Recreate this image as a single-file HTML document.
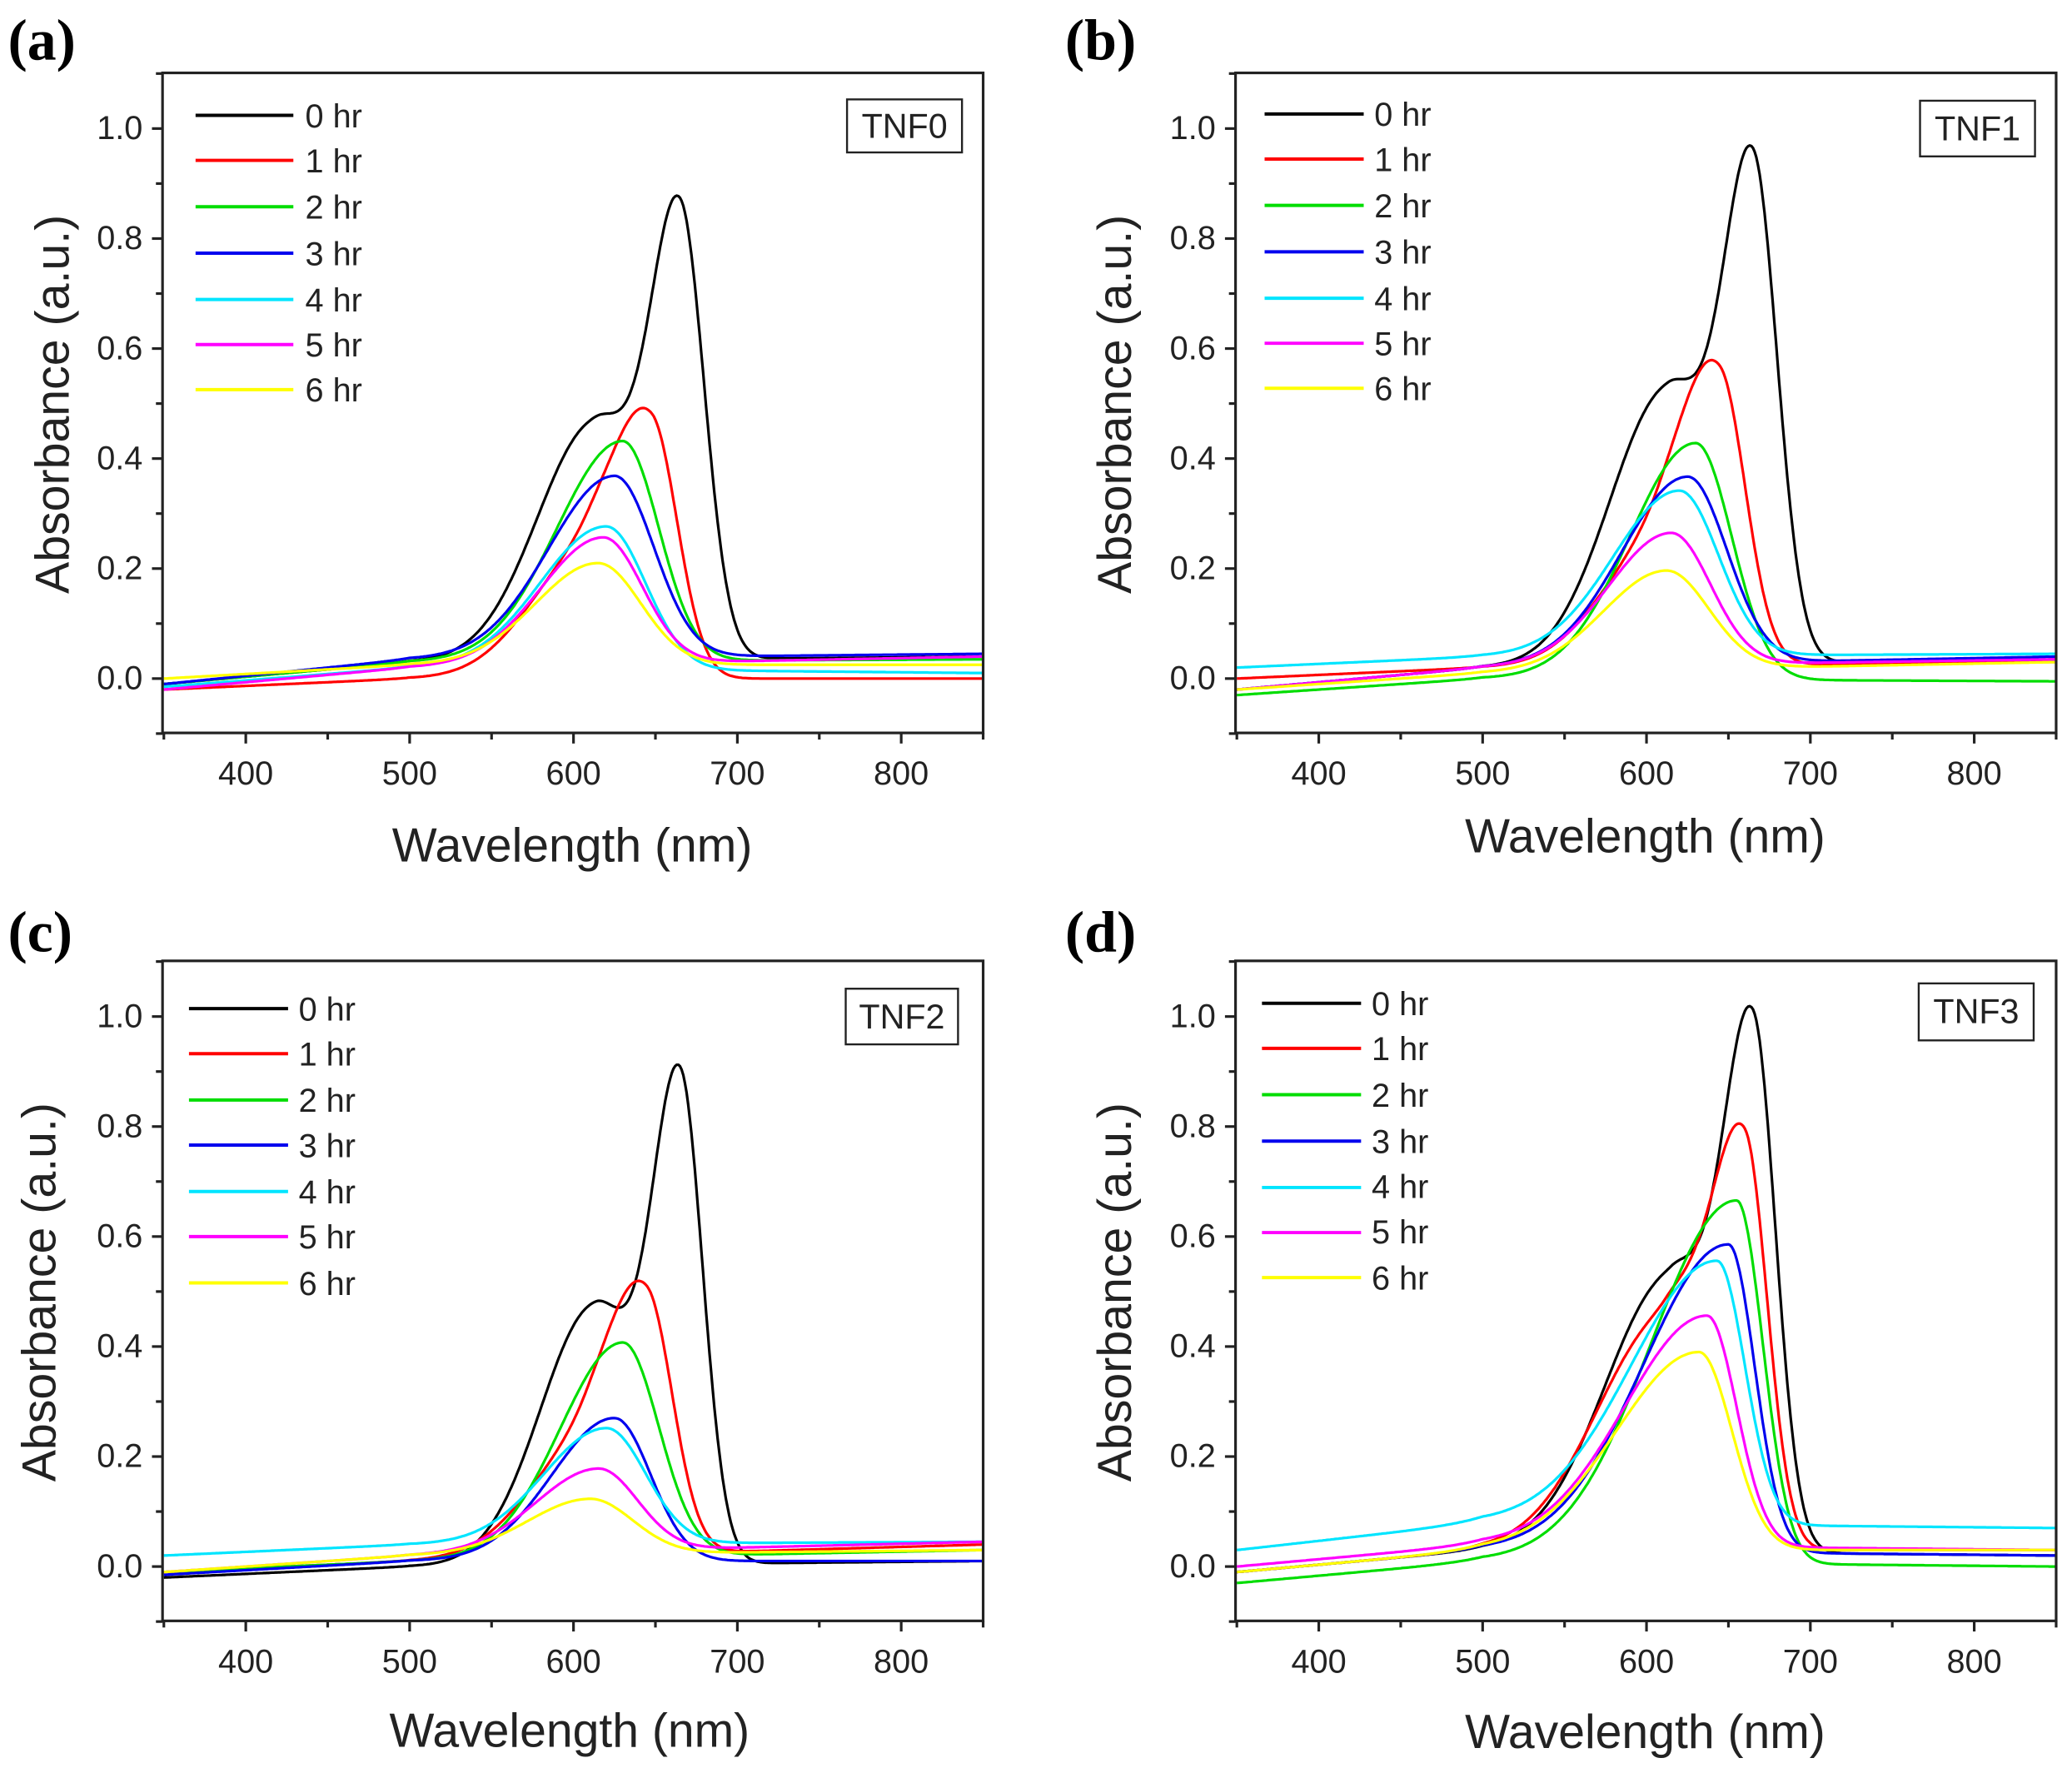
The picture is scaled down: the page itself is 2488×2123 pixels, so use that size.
<!DOCTYPE html>
<html><head><meta charset="utf-8"><style>
html,body{margin:0;padding:0;background:#fff}
svg{display:block}
text{font-family:"Liberation Sans",sans-serif;fill:#222}
.pl{font-family:"Liberation Serif",serif;font-weight:bold;font-size:44px;fill:#000}
.tk{font-size:25px}
.ti{font-size:36px}
.lg{font-size:25px}
.bx{font-size:26px}
</style></head><body>
<svg id="s" width="2488" height="2123" viewBox="0 0 1568 1334" preserveAspectRatio="none" xmlns="http://www.w3.org/2000/svg">
<g id="g"></g>
<text class="pl" x="6" y="45">(a)</text>
<text class="pl" x="806" y="45">(b)</text>
<text class="pl" x="6" y="718">(c)</text>
<text class="pl" x="806" y="718">(d)</text>
<g>
<text class="tk" x="108" y="105" text-anchor="end">1.0</text><text class="tk" x="108" y="188" text-anchor="end">0.8</text><text class="tk" x="108" y="271" text-anchor="end">0.6</text><text class="tk" x="108" y="354" text-anchor="end">0.4</text><text class="tk" x="108" y="437" text-anchor="end">0.2</text><text class="tk" x="108" y="520" text-anchor="end">0.0</text>
<text class="tk" x="186" y="592" text-anchor="middle">400</text><text class="tk" x="310" y="592" text-anchor="middle">500</text><text class="tk" x="434" y="592" text-anchor="middle">600</text><text class="tk" x="558" y="592" text-anchor="middle">700</text><text class="tk" x="682" y="592" text-anchor="middle">800</text>
<text class="ti" x="433" y="650" text-anchor="middle">Wavelength (nm)</text>
<text class="ti" transform="translate(52,305) rotate(-90)" text-anchor="middle">Absorbance (a.u.)</text>
<text class="lg" x="231" y="96">0 hr</text><text class="lg" x="231" y="130">1 hr</text><text class="lg" x="231" y="165">2 hr</text><text class="lg" x="231" y="200">3 hr</text><text class="lg" x="231" y="235">4 hr</text><text class="lg" x="231" y="269">5 hr</text><text class="lg" x="231" y="303">6 hr</text>
<rect x="641" y="75" width="87" height="40" fill="none" stroke="#222" stroke-width="1.5"/><text class="bx" x="684.5" y="104" text-anchor="middle">TNF0</text>
</g>
<g transform="translate(812,0)">
<text class="tk" x="108" y="105" text-anchor="end">1.0</text><text class="tk" x="108" y="188" text-anchor="end">0.8</text><text class="tk" x="108" y="271" text-anchor="end">0.6</text><text class="tk" x="108" y="354" text-anchor="end">0.4</text><text class="tk" x="108" y="437" text-anchor="end">0.2</text><text class="tk" x="108" y="520" text-anchor="end">0.0</text>
<text class="tk" x="186" y="592" text-anchor="middle">400</text><text class="tk" x="310" y="592" text-anchor="middle">500</text><text class="tk" x="434" y="592" text-anchor="middle">600</text><text class="tk" x="558" y="592" text-anchor="middle">700</text><text class="tk" x="682" y="592" text-anchor="middle">800</text>
<text class="ti" x="433" y="643" text-anchor="middle">Wavelength (nm)</text>
<text class="ti" transform="translate(44,305) rotate(-90)" text-anchor="middle">Absorbance (a.u.)</text>
<text class="lg" x="228" y="95">0 hr</text><text class="lg" x="228" y="129">1 hr</text><text class="lg" x="228" y="164">2 hr</text><text class="lg" x="228" y="199">3 hr</text><text class="lg" x="228" y="234">4 hr</text><text class="lg" x="228" y="268">5 hr</text><text class="lg" x="228" y="302">6 hr</text>
<rect x="641" y="76" width="87" height="42" fill="none" stroke="#222" stroke-width="1.5"/><text class="bx" x="684.5" y="106" text-anchor="middle">TNF1</text>
</g>
<g transform="translate(0,670)">
<text class="tk" x="108" y="105" text-anchor="end">1.0</text><text class="tk" x="108" y="188" text-anchor="end">0.8</text><text class="tk" x="108" y="271" text-anchor="end">0.6</text><text class="tk" x="108" y="354" text-anchor="end">0.4</text><text class="tk" x="108" y="437" text-anchor="end">0.2</text><text class="tk" x="108" y="520" text-anchor="end">0.0</text>
<text class="tk" x="186" y="592" text-anchor="middle">400</text><text class="tk" x="310" y="592" text-anchor="middle">500</text><text class="tk" x="434" y="592" text-anchor="middle">600</text><text class="tk" x="558" y="592" text-anchor="middle">700</text><text class="tk" x="682" y="592" text-anchor="middle">800</text>
<text class="ti" x="431" y="648" text-anchor="middle">Wavelength (nm)</text>
<text class="ti" transform="translate(42,305) rotate(-90)" text-anchor="middle">Absorbance (a.u.)</text>
<text class="lg" x="226" y="100">0 hr</text><text class="lg" x="226" y="134">1 hr</text><text class="lg" x="226" y="169">2 hr</text><text class="lg" x="226" y="203">3 hr</text><text class="lg" x="226" y="238">4 hr</text><text class="lg" x="226" y="272">5 hr</text><text class="lg" x="226" y="307">6 hr</text>
<rect x="640" y="76" width="85" height="42" fill="none" stroke="#222" stroke-width="1.5"/><text class="bx" x="682.5" y="106" text-anchor="middle">TNF2</text>
</g>
<g transform="translate(812,670)">
<text class="tk" x="108" y="105" text-anchor="end">1.0</text><text class="tk" x="108" y="188" text-anchor="end">0.8</text><text class="tk" x="108" y="271" text-anchor="end">0.6</text><text class="tk" x="108" y="354" text-anchor="end">0.4</text><text class="tk" x="108" y="437" text-anchor="end">0.2</text><text class="tk" x="108" y="520" text-anchor="end">0.0</text>
<text class="tk" x="186" y="592" text-anchor="middle">400</text><text class="tk" x="310" y="592" text-anchor="middle">500</text><text class="tk" x="434" y="592" text-anchor="middle">600</text><text class="tk" x="558" y="592" text-anchor="middle">700</text><text class="tk" x="682" y="592" text-anchor="middle">800</text>
<text class="ti" x="433" y="649" text-anchor="middle">Wavelength (nm)</text>
<text class="ti" transform="translate(44,305) rotate(-90)" text-anchor="middle">Absorbance (a.u.)</text>
<text class="lg" x="226" y="96">0 hr</text><text class="lg" x="226" y="130">1 hr</text><text class="lg" x="226" y="165">2 hr</text><text class="lg" x="226" y="200">3 hr</text><text class="lg" x="226" y="234">4 hr</text><text class="lg" x="226" y="268">5 hr</text><text class="lg" x="226" y="303">6 hr</text>
<rect x="640" y="72" width="87" height="43" fill="none" stroke="#222" stroke-width="1.5"/><text class="bx" x="683.5" y="102" text-anchor="middle">TNF3</text>
</g>
</svg>
<script>
(function(){
var NS="http://www.w3.org/2000/svg",g=document.getElementById("g");
var cols=["#000000","#ff0000","#00dd00","#0000ee","#00e5ff","#ff00ff","#ffff00"];
function add(tag,at){var e=document.createElementNS(NS,tag);for(var k in at)e.setAttribute(k,at[k]);g.appendChild(e);return e;}
function sg(l,c,a,sl,sr){var s=l<c?sl:sr;return a*Math.exp(-(l-c)*(l-c)/(2*s*s));}
var P=[
 {ox:0,oy:0,lx:[148,222],ly:[87,121,156,191,226,260,294],c:[
  [-0.01,0.03,0.04,[665,0.79,18,15],[613,0.43,35,25]],
  [-0.02,0.0,0.0,[648,0.42,22,16],[608,0.22,35,25]],
  [-0.01,0.03,0.035,[630,0.40,40,22]],
  [-0.01,0.035,0.045,[625,0.33,40,24]],
  [-0.015,0.02,0.01,[620,0.26,40,24]],
  [-0.02,0.02,0.04,[618,0.23,38,24]],
  [0.0,0.025,0.025,[615,0.185,38,26]]]},
 {ox:812,oy:0,lx:[957,1032],ly:[86,120,155,190,225,259,293],c:[
  [-0.02,0.02,0.035,[665,0.88,18,15],[613,0.5,35,25]],
  [0.0,0.02,0.03,[645,0.47,22,16],[608,0.22,35,25]],
  [-0.03,0.0,-0.005,[630,0.43,40,22]],
  [-0.02,0.02,0.04,[625,0.34,40,24]],
  [0.02,0.04,0.045,[620,0.30,40,24]],
  [-0.02,0.02,0.035,[615,0.24,38,24]],
  [-0.02,0.01,0.03,[612,0.18,38,26]]]},
 {ox:0,oy:670,lx:[143,218],ly:[91,125,160,194,229,263,298],c:[
  [-0.02,0.0,0.01,[665,0.86,17,14],[613,0.47,33,24]],
  [-0.01,0.01,0.04,[645,0.42,22,16],[608,0.2,35,25]],
  [-0.01,0.01,0.03,[630,0.39,38,22]],
  [-0.015,0.01,0.01,[625,0.26,38,22]],
  [0.02,0.04,0.045,[620,0.21,38,24]],
  [-0.01,0.02,0.045,[615,0.15,38,24]],
  [-0.01,0.02,0.03,[610,0.10,38,26]]]},
 {ox:812,oy:670,lx:[955,1030],ly:[87,121,156,191,226,260,294],c:[
  [-0.01,0.03,0.02,[665,0.92,18,14],[615,0.5,40,25]],
  [-0.01,0.03,0.03,[660,0.70,20,14],[612,0.42,42,25]],
  [-0.03,0.01,0.0,[655,0.66,52,16]],
  [-0.01,0.03,0.02,[650,0.56,52,16]],
  [0.03,0.08,0.07,[643,0.48,52,17]],
  [0.0,0.04,0.03,[637,0.42,50,18]],
  [-0.01,0.03,0.03,[632,0.36,50,20]]]}
];
P.forEach(function(p){
 var X0=124+p.ox,Y0=512+p.oy,sx=1.24,sy=415;
 function X(l){return X0+(l-350)*sx;} function Y(v){return Y0-v*sy;}
 var L=123+p.ox,R=744+p.ox,T=55+p.oy,B=553+p.oy;
 p.c.forEach(function(c,i){
  var d="";
  for(var l=350;l<=850;l+=1){
   var b=l<500?c[0]+(c[1]-c[0])*(l-350)/150:c[1]+(c[2]-c[1])*(l-500)/350;
   var v=b;
   for(var k=3;k<c.length;k++)v+=sg(l,c[k][0],c[k][1],c[k][2],c[k][3]);
   d+=(l==350?"M":"L")+X(l).toFixed(1)+" "+Y(v).toFixed(1);
  }
  add("path",{d:d,fill:"none",stroke:cols[i],"stroke-width":2});
 });
 add("rect",{x:L,y:T,width:R-L,height:B-T,fill:"none",stroke:"#222","stroke-width":2});
 for(var l=350;l<=850;l+=50){var x=X(l);add("line",{x1:x,y1:B,x2:x,y2:B+(l%100==0?8:5),stroke:"#222","stroke-width":2});}
 for(var v=-0.1;v<=1.101;v+=0.1){var y=Y(v);var maj=Math.abs(Math.round(v*10)%2)==0;add("line",{x1:L,y1:y,x2:L-(maj?8:5),y2:y,stroke:"#222","stroke-width":2});}
 p.ly.forEach(function(y,i){var yy=y+p.oy;add("line",{x1:p.lx[0],y1:yy,x2:p.lx[1],y2:yy,stroke:cols[i],"stroke-width":2.5});});
});
})();
</script>
</body></html>
